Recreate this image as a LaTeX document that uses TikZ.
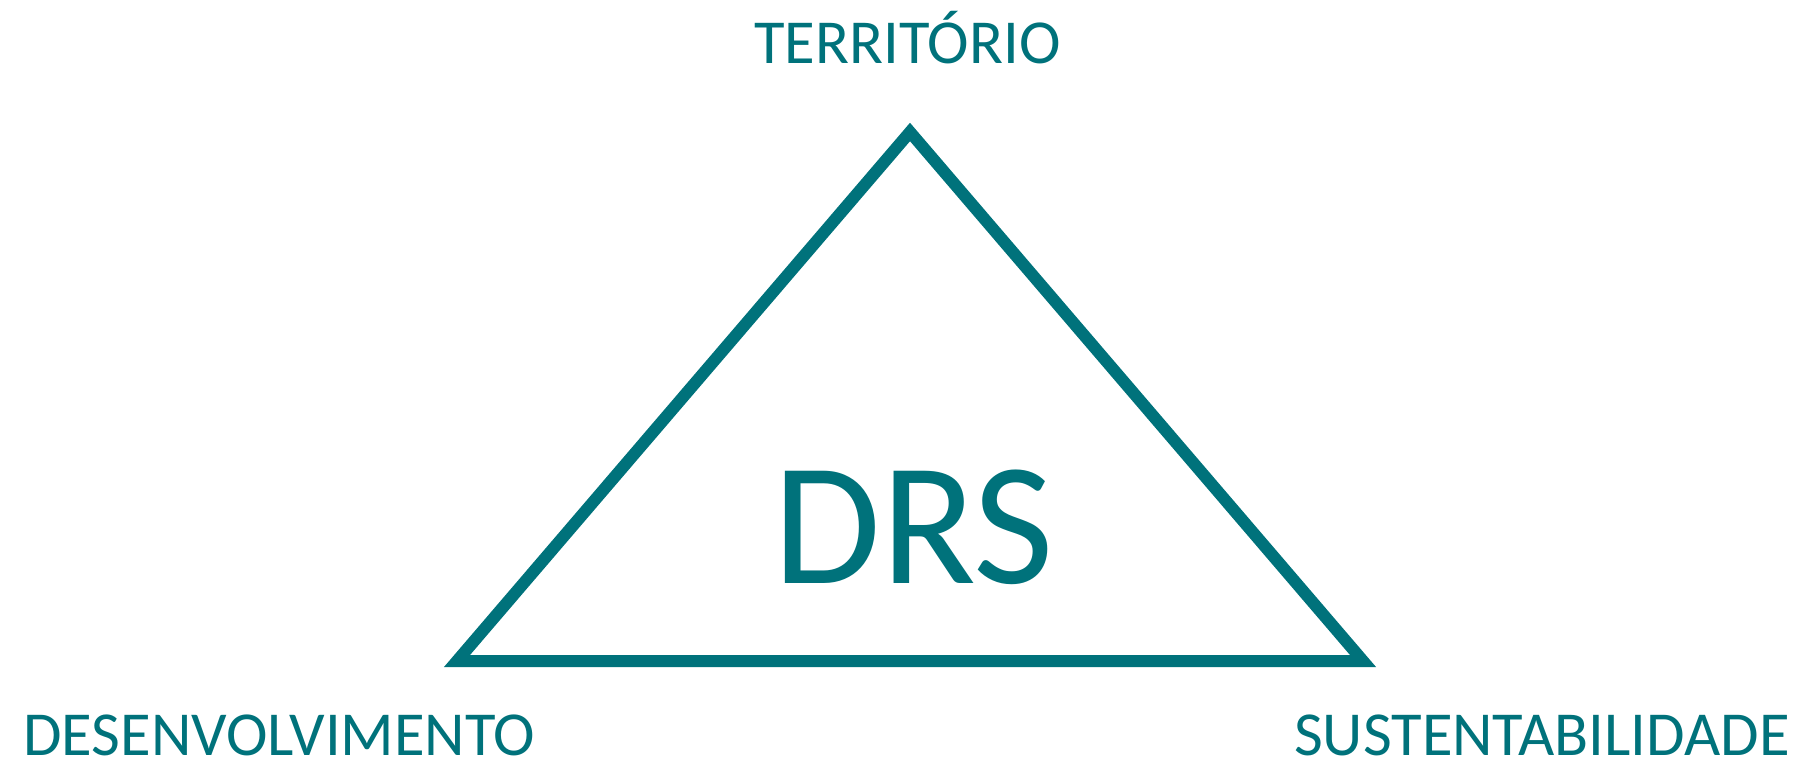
\documentclass[tikz,border=0pt]{standalone}
\usepackage{fontspec}
\setmainfont{Carlito}
\definecolor{teal1}{RGB}{0,114,123}
\begin{document}
\begin{tikzpicture}[x=0.5pt,y=-0.5pt,
  lbl/.style={inner sep=0pt,text depth=0pt,text=teal1,font=\fontsize{31.3}{31.3}\selectfont},
  big/.style={inner sep=0pt,text depth=0pt,text=teal1,font=\fontsize{87.5}{87.5}\selectfont},
  tri/.style={draw=teal1,line width=6pt,line join=miter}]
\useasboundingbox (0,0) rectangle (1802,763);
\coordinate (top) at (910,132);
\coordinate (bl) at (457,661);
\coordinate (br) at (1363,661);
\draw[tri] (top) -- (bl) -- (br) -- cycle;
\node[lbl,anchor=base] (terr) at (907.5,64) {TERRITÓRIO};
\node[lbl,anchor=base west] (desenv) at (23,755) {DESENVOLVIMENTO};
\node[lbl,anchor=base east] (sust) at (1790,755) {SUSTENTABILIDADE};
\node[big,anchor=base] (drs) at (914,583) {DRS};
\end{tikzpicture}
\end{document}
